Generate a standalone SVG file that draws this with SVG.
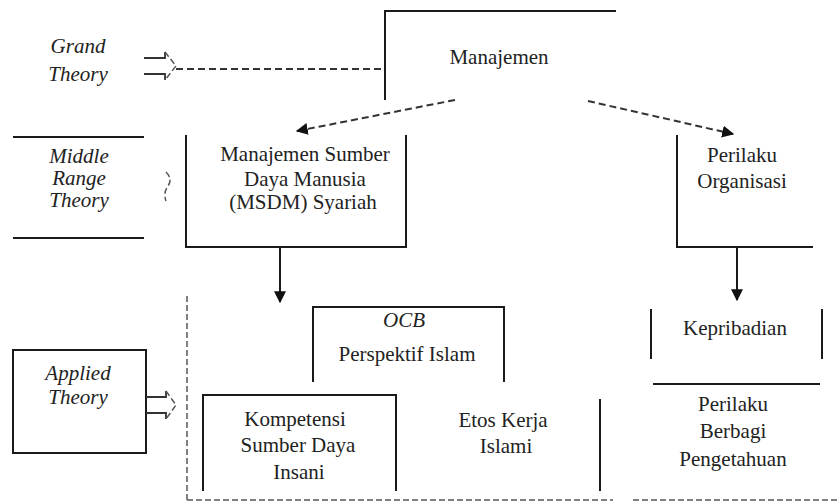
<svg xmlns="http://www.w3.org/2000/svg" width="837" height="502" viewBox="0 0 837 502">
<defs>
<style>
text{font-family:'Liberation Serif','DejaVu Serif','Times New Roman',serif;font-size:21px;fill:#222;text-anchor:middle}
.i{font-style:italic}
.ln{stroke:#1a1a1a;stroke-width:2;fill:none}
.ds{stroke:#333;stroke-width:2;fill:none;stroke-dasharray:7,4}
.dt{stroke:#555;stroke-width:1.5;fill:none;stroke-dasharray:6,3}
.ba{stroke:#333;stroke-width:1.8;fill:none}
</style>
<marker id="ah" viewBox="0 0 10 10" refX="9" refY="5" markerWidth="6" markerHeight="6" orient="auto">
<path d="M0,0 L10,5 L0,10 z" fill="#111"/>
</marker>
</defs>
<rect width="837" height="502" fill="#fff"/>

<g id="grand-theory" font-family="Liberation Serif, serif">
<text class="i" x="78" y="53">Grand</text>
<text class="i" x="78" y="81">Theory</text>
</g>

<g id="manajemen" font-family="Liberation Serif, serif">
<path class="ln" d="M385,100 V11 H616"/>
<text x="499" y="64">Manajemen</text>
</g>

<g id="middle-range-theory" font-family="Liberation Serif, serif">
<line class="ln" x1="13" y1="137" x2="144" y2="137"/>
<line class="ln" x1="13" y1="238" x2="144" y2="238"/>
<text class="i" x="79" y="163">Middle</text>
<text class="i" x="79" y="185">Range</text>
<text class="i" x="79" y="207">Theory</text>
</g>

<g id="msdm" font-family="Liberation Serif, serif">
<path class="ln" d="M186,135 V247 H406 V135"/>
<text x="305" y="161">Manajemen Sumber</text>
<text x="305" y="186">Daya Manusia</text>
<text x="303" y="209">(MSDM) Syariah</text>
</g>

<g id="perilaku-organisasi" font-family="Liberation Serif, serif">
<path class="ln" d="M677,135 V247 H813"/>
<text x="742" y="162">Perilaku</text>
<text x="742" y="188">Organisasi</text>
</g>

<g id="applied-theory" font-family="Liberation Serif, serif">
<rect class="ln" x="13" y="350" width="133" height="103"/>
<text class="i" x="78" y="380">Applied</text>
<text class="i" x="78" y="404">Theory</text>
</g>

<g id="ocb" font-family="Liberation Serif, serif">
<path class="ln" d="M313,382 V307 H504 V382"/>
<text class="i" x="404" y="327">OCB</text>
<text x="407" y="361">Perspektif Islam</text>
</g>

<g id="kompetensi" font-family="Liberation Serif, serif">
<path class="ln" d="M203,491 V395 H396 V491"/>
<text x="295" y="426">Kompetensi</text>
<text x="298" y="452">Sumber Daya</text>
<text x="299" y="479">Insani</text>
</g>

<g id="etos-kerja" font-family="Liberation Serif, serif">
<line class="ln" x1="600" y1="399" x2="600" y2="491"/>
<text x="503" y="427">Etos Kerja</text>
<text x="506" y="453">Islami</text>
</g>

<g id="kepribadian" font-family="Liberation Serif, serif">
<line class="ln" x1="651" y1="309" x2="651" y2="359"/>
<line class="ln" x1="822" y1="309" x2="822" y2="359"/>
<text x="735" y="335">Kepribadian</text>
</g>

<g id="perilaku-berbagi" font-family="Liberation Serif, serif">
<line class="ln" x1="653" y1="384" x2="820" y2="384"/>
<text x="733" y="411">Perilaku</text>
<text x="733" y="438">Berbagi</text>
<text x="733" y="466">Pengetahuan</text>
</g>

<g id="connectors">
<path class="ba" d="M144,58 H165 V52"/>
<path class="ba" d="M144,74 H165 V80"/>
<path class="dt" d="M165,52 L176,66 L165,80"/>
<line class="ds" x1="176" y1="69" x2="385" y2="69"/>
<path class="dt" d="M166,172 Q173,179 168,186 Q163,193 166,201"/>
<path class="ba" d="M146,397 H166 V391"/>
<path class="ba" d="M146,413 H166 V419"/>
<path class="dt" d="M166,391 L176,405 L166,419"/>
<line class="ds" x1="455" y1="100" x2="297" y2="131" marker-end="url(#ah)"/>
<line class="ds" x1="588" y1="101" x2="733" y2="134" marker-end="url(#ah)"/>
<line class="ln" x1="280" y1="247" x2="280" y2="302" marker-end="url(#ah)"/>
<line class="ln" x1="737" y1="247" x2="737" y2="300" marker-end="url(#ah)"/>
<line class="dt" x1="187" y1="296" x2="187" y2="500"/>
<line class="dt" x1="187" y1="500" x2="613" y2="500"/>
<line class="dt" x1="633" y1="500" x2="837" y2="500"/>
</g>
</svg>
